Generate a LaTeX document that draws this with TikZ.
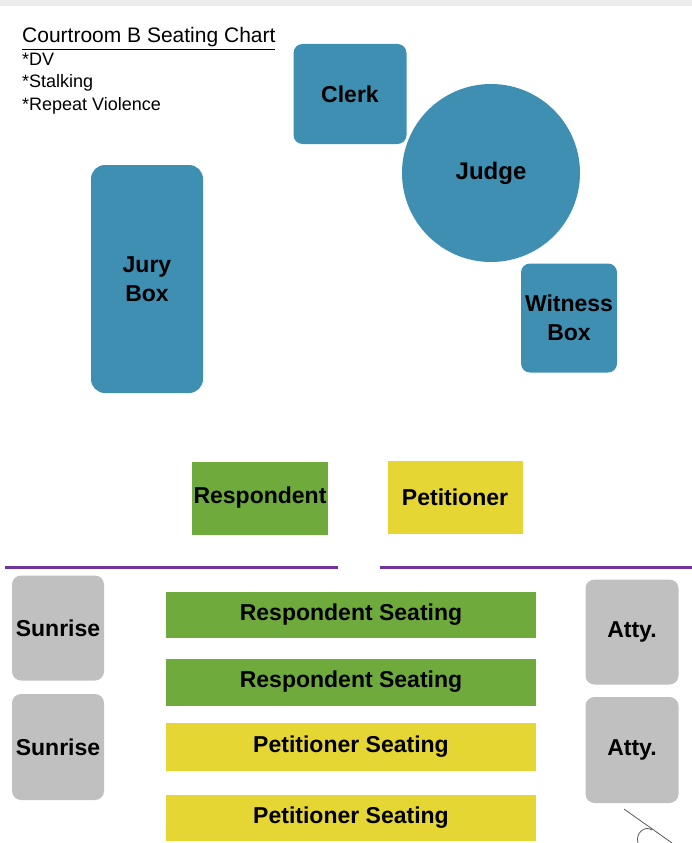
\documentclass[tikz,border=0pt]{standalone}
\usepackage{fontspec}
\setmainfont{Liberation Sans}
\definecolor{benchblue}{RGB}{62,143,177}
\definecolor{respgreen}{RGB}{110,170,60}
\definecolor{petyellow}{RGB}{229,214,52}
\definecolor{sidegray}{RGB}{192,192,192}
\definecolor{barpurple}{RGB}{112,52,158}
\tikzset{
  box/.style={rectangle, rounded corners=9pt, inner sep=0pt, align=center, font=\fontsize{23}{29}\selectfont\bfseries},
  flat/.style={rectangle, inner sep=0pt, align=center, font=\fontsize{23}{26}\selectfont\bfseries},
  note/.style={anchor=base west, inner sep=0pt, font=\fontsize{18}{20}\selectfont}
}

\begin{document}
\begin{tikzpicture}[x=1pt, y=-1pt]
    \useasboundingbox (0,0) rectangle (692,843);
    \fill[gray!15] (0,0) rectangle (692,6);

    % title and case types
    \node[note, font=\fontsize{21}{23}\selectfont] (title) at (22,43) {\underline{Courtroom B Seating Chart}};
    \node[note] (dv) at (22,66) {*DV};
    \node[note] (stalk) at (22,88) {*Stalking};
    \node[note] (repeat) at (22,110) {*Repeat Violence};

    % the bench side
    \node[box, fill=benchblue, minimum width=113pt, minimum height=100pt] (clerk) at (350,94) {Clerk};
    \node[circle, fill=benchblue, minimum size=178pt, inner sep=0pt, font=\fontsize{24}{26}\selectfont\bfseries] (judge) at (491,173) {Judge};
    \node[box, fill=benchblue, minimum width=112pt, minimum height=228pt, rounded corners=14pt] (jury) at (147,279) {Jury\\Box};
    \node[box, fill=benchblue, minimum width=96pt, minimum height=109pt] (witness) at (569,318) {Witness\\Box};

    % the two tables
    \node[flat, fill=respgreen, minimum width=136pt, minimum height=73pt] (resp) at (260,498) {Respondent};
    \node[flat, fill=petyellow, minimum width=135pt, minimum height=73pt] (pet) at (455,497) {Petitioner};

    % the bar, with its gap
    \coordinate (barL1) at (5,567);
    \coordinate (barL2) at (338,567);
    \coordinate (barR1) at (380,567);
    \coordinate (barR2) at (692,567);
    \draw[barpurple, line width=3pt] (barL1) -- (barL2);
    \draw[barpurple, line width=3pt] (barR1) -- (barR2);

    % gallery
    \node[box, fill=sidegray, minimum width=92pt, minimum height=105pt] (sun1) at (58,628) {Sunrise};
    \node[box, fill=sidegray, minimum width=92pt, minimum height=106pt] (sun2) at (58,747) {Sunrise};
    \node[box, fill=sidegray, minimum width=93pt, minimum height=105pt] (atty1) at (632,632) {Atty.};
    \node[box, fill=sidegray, minimum width=93pt, minimum height=106pt] (atty2) at (632,750) {Atty.};
    \node[flat, fill=respgreen, minimum width=370pt, minimum height=46pt] (rs1) at (351,615) {Respondent Seating};
    \node[flat, fill=respgreen, minimum width=370pt, minimum height=47pt] (rs2) at (351,682) {Respondent Seating};
    \node[flat, fill=petyellow, minimum width=370pt, minimum height=48pt] (ps1) at (351,747) {Petitioner Seating};
    \node[flat, fill=petyellow, minimum width=370pt, minimum height=46pt] (ps2) at (351,818) {Petitioner Seating};

    % stray pen mark
    \draw[gray!70!black, line width=0.8pt] (624,809) -- (672,843);
    \draw[gray!70!black, line width=0.8pt] (652,830) .. controls (645,825) and (635,833) .. (638,843);
\end{tikzpicture}
\end{document}
